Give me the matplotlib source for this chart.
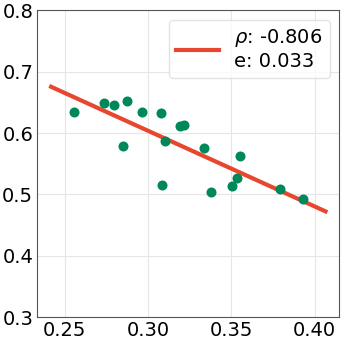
import numpy as np
import matplotlib
matplotlib.use("Agg")
import matplotlib.pyplot as plt

x_vals = [0.2556, 0.2738, 0.2799, 0.2874, 0.2850, 0.2967, 0.3079, 0.3193, 0.3217,
          0.3101, 0.3087, 0.3335, 0.3552, 0.3536, 0.3502, 0.3378, 0.3792, 0.3928]
y_vals = [0.6343, 0.6485, 0.6452, 0.6522, 0.5793, 0.6348, 0.6331, 0.6114, 0.6135,
          0.5869, 0.5147, 0.5760, 0.5625, 0.5271, 0.5135, 0.5038, 0.5091, 0.4928]
rho_label = -0.806
err_label = 0.033
x_ticks = [0.25, 0.30, 0.35, 0.40]
y_ticks = [0.3, 0.4, 0.5, 0.6, 0.7, 0.8]

x = np.array(x_vals)
y = np.array(y_vals)

fig = plt.figure(figsize=(3.43, 3.43), dpi=100)
ax = fig.add_axes([0.109, 0.075, 0.880, 0.895])

slope, intercept = np.polyfit(x, y, 1)
rng = x.max() - x.min()
xl = np.array([x.min() - 0.1 * rng, x.max() + 0.1 * rng])
ax.plot(xl, slope * xl + intercept, color="#e8472f", lw=3,
        label=f"$\\rho$: {rho_label:.3f}\ne: {err_label:.3f}", zorder=2)
ax.scatter(x, y, s=52, color="#00875a", zorder=3, linewidths=0)

ax.set_ylim(0.3, 0.8)
ax.set_xticks(x_ticks)
ax.set_xticklabels([f"{t:.2f}" for t in x_ticks])
ax.set_yticks(y_ticks)
ax.set_yticklabels([f"{t:.1f}" for t in y_ticks])
ax.tick_params(length=0, labelsize=14, pad=3)
ax.grid(True, color="#e6e6e6", lw=0.8)
ax.set_axisbelow(True)
for s in ax.spines.values():
    s.set_color("#555555")
    s.set_linewidth(0.8)

leg = ax.legend(loc="upper right", fontsize=14, handlelength=2.2,
                frameon=True, fancybox=True, borderpad=0.35)
leg.get_frame().set_edgecolor("#dddddd")

fig.savefig("out.png", dpi=100)
